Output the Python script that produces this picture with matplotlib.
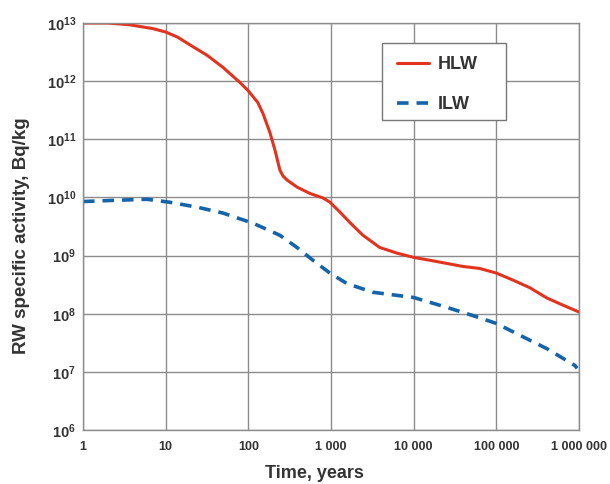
import matplotlib
matplotlib.use("Agg")
import matplotlib.pyplot as plt
from matplotlib.ticker import FixedLocator, FixedFormatter
from matplotlib.patches import Rectangle

plt.rcParams['font.family'] = ['Liberation Sans', 'DejaVu Sans']
plt.rcParams['mathtext.fontset'] = 'custom'
plt.rcParams['mathtext.rm'] = 'Liberation Sans:bold'
plt.rcParams['mathtext.bf'] = 'Liberation Sans:bold'

# Data
hlw_t = [1, 2, 3.7, 4.9, 7, 10, 14, 19.7, 31.5, 49, 79, 100, 130, 150, 182, 210, 241, 262, 293, 387, 556,
         798, 970, 1282, 1693, 2430, 3880, 6300, 10000, 15700, 39400, 63000, 100000,
         158000, 254000, 410000, 635000, 1000000]
hlw_a = [1.0e13, 1.0e13, 9.3e12, 8.7e12, 8.0e12, 7.0e12, 5.7e12, 4.2e12, 2.8e12, 1.74e12, 9.5e11,
         6.8e11, 4.3e11, 2.8e11, 1.32e11, 6.5e10, 2.95e10, 2.35e10, 2.0e10, 1.51e10, 1.17e10,
         9.8e9, 8.3e9, 5.6e9, 3.7e9, 2.24e9, 1.38e9, 1.1e9, 9.3e8, 8.3e8, 6.5e8, 6.0e8, 5.0e8,
         3.8e8, 2.8e8, 1.86e8, 1.41e8, 1.07e8]

ilw_t = [1, 2.3, 5.9, 11, 24, 49, 114, 240, 387, 605, 970, 1560, 3200, 10000, 25000,
         52000, 100000, 254000, 410000, 890000, 950000]
ilw_a = [8.5e9, 8.9e9, 9.3e9, 8.3e9, 6.8e9, 5.4e9, 3.6e9, 2.24e9, 1.38e9, 8.3e8, 5.0e8,
         3.3e8, 2.34e8, 1.9e8, 1.29e8, 9.3e7, 6.8e7, 3.5e7, 2.5e7, 1.29e7, 1.15e7]

x_ticks = [1, 10, 100, 1000, 10000, 100000, 1000000]
x_labels = ["1", "10", "100", "1 000", "10 000", "100 000", "1 000 000"]
y_ticks = [1e6, 1e7, 1e8, 1e9, 1e10, 1e11, 1e12, 1e13]
y_labels = [r"$\mathbf{10^{%d}}$" % e for e in range(6, 14)]

W, H = 610, 484
fig = plt.figure(figsize=(W / 100, H / 100), dpi=100)
ax = fig.add_axes([83/W, 1 - 430/H, (579-83)/W, (430-23)/H])

ax.plot(hlw_t, hlw_a, color='#e2331f', lw=2.2, label='HLW',
        solid_capstyle='round', solid_joinstyle='round')
ax.plot(ilw_t, ilw_a, color='#1563a8', lw=2.6, ls=(0, (3.2, 2.2)), label='ILW',
        dash_joinstyle='round')

ax.set_xscale('log')
ax.set_yscale('log')
ax.set_xlim(1, 1e6)
ax.set_ylim(1e6, 1e13)
ax.xaxis.set_major_locator(FixedLocator(x_ticks))
ax.xaxis.set_major_formatter(FixedFormatter(x_labels))
ax.yaxis.set_major_locator(FixedLocator(y_ticks))
ax.yaxis.set_major_formatter(FixedFormatter(y_labels))
ax.xaxis.set_minor_locator(FixedLocator([]))
ax.yaxis.set_minor_locator(FixedLocator([]))
ax.tick_params(length=0, labelsize=9, labelcolor='#333333')
ax.tick_params(axis='x', pad=8)
ax.tick_params(axis='y', pad=5, labelsize=10.5)
for lab in ax.get_xticklabels():
    lab.set_fontweight('bold')

ax.grid(True, color='#8c8c8c', lw=1.0)
for s in ax.spines.values():
    s.set_color('#8c8c8c')
    s.set_linewidth(1.0)

ax.set_xlabel('Time, years', fontsize=13, fontweight='bold', color='#333333', labelpad=10)
ax.xaxis.set_label_coords((314 - 83) / 496, -0.085)
ax.set_ylabel('RW specific activity, Bq/kg', fontsize=13.5, fontweight='bold', color='#333333')
ax.yaxis.set_label_coords((30 - 83) / 496, (430 - 236) / 407)

# legend frame (fixed box) and legend contents
frame = Rectangle((382 / W, 1 - 120 / H), 124 / W, 77 / H, transform=fig.transFigure,
                  facecolor='white', edgecolor='#777777', lw=1.0, zorder=4, clip_on=False)
ax.add_patch(frame)
leg = ax.legend(loc='upper left', bbox_to_anchor=(397 / W, 1 - 56 / H),
                bbox_transform=fig.transFigure, frameon=False, borderpad=0,
                handlelength=1.75, handletextpad=0.5, labelspacing=1.28,
                prop={'weight': 'bold', 'size': 13}, borderaxespad=0)
leg.set_zorder(5)
for t in leg.get_texts():
    t.set_color('#333333')

fig.savefig('out.png', dpi=100)
